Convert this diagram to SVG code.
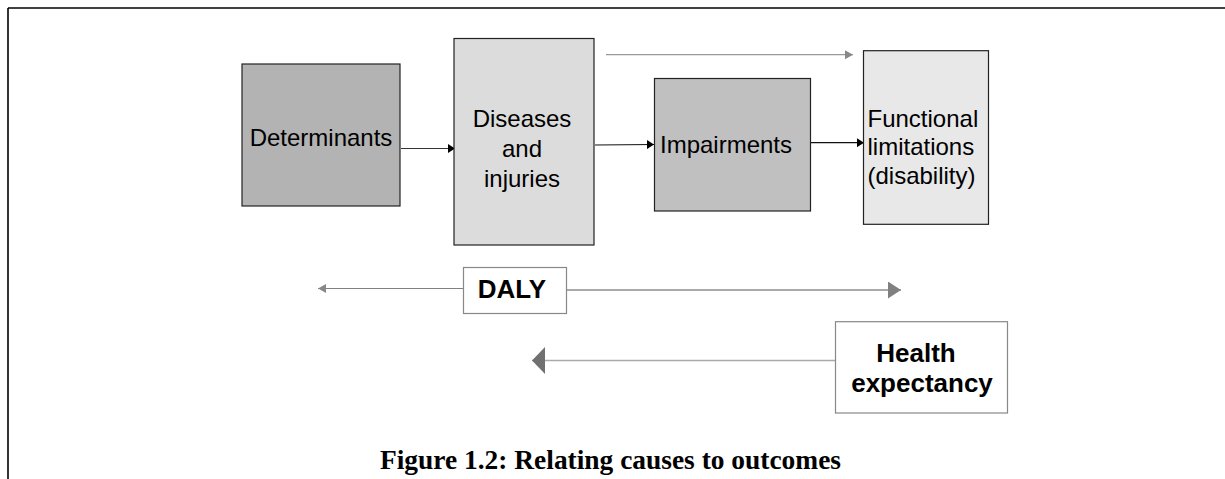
<svg xmlns="http://www.w3.org/2000/svg" width="1225" height="479" viewBox="0 0 1225 479">
<style>
.box{stroke:#222;stroke-width:1.2}
.lbl{font-family:"Liberation Sans",Arial,sans-serif;font-size:24px;fill:#000}
.blbl{font-family:"Liberation Sans",Arial,sans-serif;font-size:26px;font-weight:bold;fill:#000}
.wbox{fill:#fff;stroke:#888;stroke-width:1.2}
.cap{font-family:"Liberation Serif","Times New Roman",serif;font-size:27px;font-weight:bold;fill:#000}
</style>
<defs>
<marker id="ahBlack" markerUnits="userSpaceOnUse" markerWidth="8" markerHeight="9" refX="7" refY="4.5" orient="auto">
<path d="M0,0 L7,4.5 L0,9 z" fill="#000"/>
</marker>
<marker id="ahGraySmall" markerUnits="userSpaceOnUse" markerWidth="9" markerHeight="10" refX="8" refY="4.5" orient="auto">
<path d="M0,0 L8,4.5 L0,9 z" fill="#888"/>
</marker>
<marker id="ahGrayMid" markerUnits="userSpaceOnUse" markerWidth="14" markerHeight="18" refX="13" refY="8.5" orient="auto">
<path d="M0,0 L13,8.5 L0,17 z" fill="#808080"/>
</marker>
<marker id="ahGrayBig" markerUnits="userSpaceOnUse" markerWidth="14" markerHeight="28" refX="13" refY="13.5" orient="auto">
<path d="M0,0 L13,13.5 L0,27 z" fill="#707070"/>
</marker>
</defs>
<rect width="1225" height="479" fill="#fff"/>
<g id="frame">
<line x1="8" y1="8" x2="1225" y2="8" stroke="#000" stroke-width="1.6"/>
<line x1="8" y1="8" x2="8" y2="479" stroke="#000" stroke-width="1.6"/>
</g>
<g id="connectors" fill="none">
<line x1="401" y1="148.5" x2="455" y2="148.5" stroke="#333" stroke-width="1.2" marker-end="url(#ahBlack)"/>
<line x1="595" y1="145" x2="654" y2="144.5" stroke="#111" stroke-width="1.2" marker-end="url(#ahBlack)"/>
<line x1="811" y1="142.7" x2="864" y2="142.7" stroke="#111" stroke-width="1.2" marker-end="url(#ahBlack)"/>
<line x1="606" y1="54.7" x2="853" y2="54.7" stroke="#999" stroke-width="1.3" marker-end="url(#ahGraySmall)"/>
<line x1="463" y1="288.5" x2="318" y2="288.5" stroke="#808080" stroke-width="1.2" marker-end="url(#ahGraySmall)"/>
<line x1="567" y1="290" x2="901" y2="290" stroke="#aaa" stroke-width="2" marker-end="url(#ahGrayMid)"/>
<line x1="835" y1="360.5" x2="532" y2="360.5" stroke="#aaa" stroke-width="1.6" marker-end="url(#ahGrayBig)"/>
</g>
<g id="determinants">
<rect class="box" x="242" y="64" width="158" height="142" fill="#b3b3b3"/>
<text class="lbl" x="321" y="146" text-anchor="middle">Determinants</text>
</g>
<g id="diseases">
<rect class="box" x="454" y="38.5" width="140" height="206.5" fill="#dcdcdc"/>
<text class="lbl" x="522" y="126.5" text-anchor="middle">Diseases</text>
<text class="lbl" x="522" y="157" text-anchor="middle">and</text>
<text class="lbl" x="522" y="186.5" text-anchor="middle">injuries</text>
</g>
<g id="impairments">
<rect class="box" x="654.5" y="78.5" width="156" height="132.5" fill="#c0c0c0"/>
<text class="lbl" x="660" y="153">Impairments</text>
</g>
<g id="functional">
<rect class="box" x="863.5" y="50.7" width="125" height="173.6" fill="#e8e8e8"/>
<text class="lbl" x="867.5" y="126.5">Functional</text>
<text class="lbl" x="867.5" y="155">limitations</text>
<text class="lbl" x="867.5" y="183.5">(disability)</text>
</g>
<g id="daly">
<rect class="wbox" x="463.5" y="267.5" width="103" height="46"/>
<text class="blbl" x="512" y="297.5" text-anchor="middle">DALY</text>
</g>
<g id="health-expectancy">
<rect class="wbox" x="835.5" y="321.7" width="172" height="91.3"/>
<text class="blbl" x="916" y="361.5" text-anchor="middle">Health</text>
<text class="blbl" x="922" y="391.5" text-anchor="middle">expectancy</text>
</g>
<g id="caption">
<text class="cap" x="380" y="469" textLength="461" lengthAdjust="spacingAndGlyphs">Figure 1.2: Relating causes to outcomes</text>
</g>
</svg>
